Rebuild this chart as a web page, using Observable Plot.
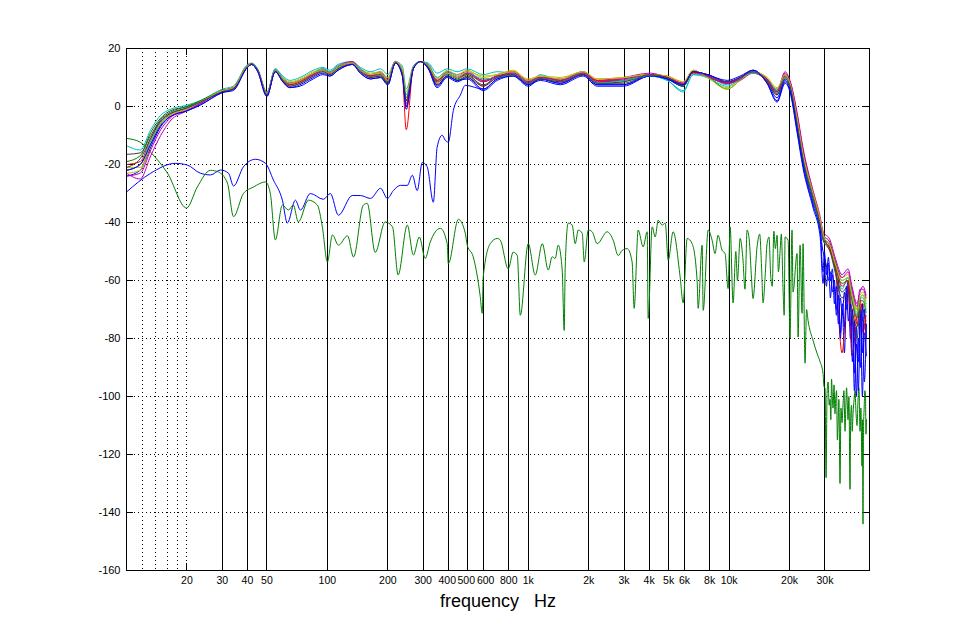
<!DOCTYPE html>
<html><head><meta charset="utf-8">
<script src="https://cdn.jsdelivr.net/npm/d3@7"></script>
<script src="https://cdn.jsdelivr.net/npm/@observablehq/plot@0.6"></script>
<style>html,body{margin:0;padding:0;background:#fff}</style>
</head><body><div id="chart"></div>
<script>
// ---- axis / grid definitions ----
const xTicks = [20,30,40,50,100,200,300,400,500,600,800,1000,2000,3000,4000,5000,6000,8000,10000,20000,30000];
const xTickLabels = ["20","30","40","50","100","200","300","400","500","600","800","1k","2k","3k","4k","5k","6k","8k","10k","20k","30k"];
const yTicks = [20,0,-20,-40,-60,-80,-100,-120,-140,-160];
const dottedX = [12,14,16,18,20];
const solidX = [30,40,50,100,200,300,400,500,600,800,1000,2000,3000,4000,5000,6000,8000,10000,20000,30000];
const yGrid = [0,-20,-40,-60,-80,-100,-120,-140];
const xLabel = "frequency\u00a0\u00a0\u00a0Hz";

// ---- bundle of measured responses (shared frequency grid) ----
const bundleFreq = [10,11.7,13.2,14.8,16.5,20,23.3,30,34,40,42,45,50,55,60,65,73,85,95,103,113,133,146,164,184,200,218,236,247,268,290,318,352,395,443,497,597,701,842,1000,1148,1443,1878,2205,2970,4046,4917,5906,6622,7778,9780,11350,13160,15450,17330,19000,20100,21800,23300,26200,28400,29350,31800,33700,36500,39100,40900,43350,44850,46400,48050];

const respRed1 = [-22,-20,-13,-6,-3,-1,1,5.5,6,14, 14.5,12.5,4.5,12.5,9.5,8,9,11.5,12.5,11.5, 13.5,15,12.5,10.5,11,8.5,15.5,11,-8,13.5, 15.5,14,8,11.5,10,11,7,11,12,9, 10.5,9,11,9,9.5,11,10.5,8,12.5,10, 8.5,9.5,12,9.5,5.5,11,8.5,-3,-15,-30, -39,-44,-50,-55,-85,-62,-67,-75,-70,-68,-80];
const respCyan1 = [-13.5,-15,-8,-3,-1,0.5,2,6,7,14.5, 15,13,5,13,10.5,9,10,12.5,13.5,12.5, 14.5,15.5,13.5,12,13,11,15.5,14,6,14, 15.5,15,11.5,13,12,13,11,12,11,8, 11,9,12,8,8.5,10.5,9,5,11,10.5, 7.5,10,11.5,9.5,6,10.5,7,-6,-18,-32, -42,-46,-49,-53,-63,-59,-64,-70,-66,-65,-68];
const respMagenta1 = [-23,-25,-17,-10,-5,-1.5,1,5.5,6.5,14, 14.5,12.5,4.5,12.5,9.5,8,9,11.5,13,12, 14,15.5,13,11,12,9.5,15.5,12.5,2,13.5, 15.5,14.5,9,12,11,12,9,10,12,9, 10,9.5,12,9,10,11.5,10,8,12,10.5, 8,9,11.5,9,5.5,12,9,-2,-14,-29, -38,-43,-46,-52,-58,-56,-62,-68,-64,-62,-65];
const respOlive1 = [-21,-21,-12,-6,-2.5,-0.5,1.5,5.5,6.5,14, 14.5,12.5,4.5,12.5,10,8.5,9.5,12,13,12, 14,15,13,11.5,12,10,15.5,13,4,13.5, 15.5,14.5,10,12.5,11,12.5,10,11,12.5,9, 10.5,10,12,9.5,10,11,10.5,8.5,12.5,10, 6.5,9.5,12,10,6,11,8,-4,-16,-30, -39,-44,-47,-53,-59,-58,-64,-70,-65,-64,-67];
const respGray1 = [-16.5,-16,-10,-4.5,-2,0,1.5,5,6,13.5, 14.5,12.5,4,12,9,7,8,10.5,12,11, 13,14.5,12,10,10.5,8,15,11.5,1,13, 15.5,13.5,7.5,10.5,9,10.5,7.5,10,11,8, 9.5,8.5,11,8,8.5,11,10,7.5,12,10.5, 8,9.5,12,9,4.5,9.5,7,-5,-17,-31, -40,-45,-49,-56,-64,-62,-70,-76,-68,-70,-74];
const respBlue1 = [-24,-22,-14,-7,-3.5,-1.5,0.5,4.8,6,13.5, 14.5,12,3.5,12,8.5,6.5,7.5,10,11.5,10.5, 12.5,14.5,11.5,9.5,10,7.5,15,11,-1,13, 15.5,13,6.5,10,8.5,10,6,9.5,11,7.5, 9.5,8,11,7.5,7.5,11,9.5,7,12,11, 8.5,10,12.5,8.5,3,9,6,-7,-19,-33, -42,-57,-52,-60,-75,-70,-88,-95,-78,-92,-85];
const respGreen1 = [-19,-17,-9,-4,-1.5,0,2,5.5,6.5,14, 14.5,12.5,4.5,12.5,9.5,7.5,8.5,11,12.5,11.5, 13.5,15,12.5,10.5,11,8.5,15.5,12,3,13.5, 15.5,14,8.5,11,9.5,11,8.5,10.5,11.5,8.5, 10,9,11.5,8.5,9,11,10,7,12,10.5, 6,9,12,9,4,10,7.5,-5,-17,-31, -40,-45,-48,-55,-61,-60,-66,-73,-67,-67,-71];
const respRed2 = [-20,-19,-11,-5,-2.5,-0.5,1.5,5.5,6.5,14, 14.8,12.5,4.5,12.5,9,7.5,8.5,11,12.5,11.5, 13.5,15,12.5,10.5,11.5,9,15.5,12,0,13.5, 15.5,14,9,11.5,10,11.5,9,10.5,11,8, 10,9,11.5,9,9,11,10,7.5,11.5,10.5, 8,9.5,12,9,5,10.5,8,-4,-16,-30, -40,-45,-49,-54,-62,-60,-86,-72,-66,-78,-72];
const respCyan2 = [-22,-20,-12,-5.5,-2.5,-0.5,1.5,5.5,6.5,14, 14.5,12.5,4.5,13,10,8,9,11.5,13,12, 14,15,13,11,11.5,9,15.5,12.5,4,13.5, 15.5,14.5,10,12,10.5,11.5,9.5,10,11,8, 10,8.5,11.5,8,9,10.5,9,5.5,11,10, 7,9.5,11.5,9.5,5.5,10,7,-5,-17,-32, -41,-45,-48,-53,-60,-59,-65,-72,-66,-66,-70];
const respMagenta2 = [-24,-23,-15,-8,-4,-1,1,5.5,6.5,14, 14.5,12.5,4.5,12.5,9.5,8,9,11,12.5,11.5, 13.5,15,12.5,10.5,11.5,9,15.5,12,2,13.5, 15.5,14,9,11.5,10,11.5,8.5,10.5,11.5,8.5, 10,9,11.5,8.5,9.5,11,10,8,12,10.5, 8,9.5,12,9.5,5,11.5,8.5,-3,-15,-30, -39,-44,-47,-53,-59,-57,-63,-69,-63,-63,-66];
const respOlive2 = [-23,-22,-13,-6,-3,-1,1.5,5.5,6.5,14, 14.5,12.5,4.5,12.5,9.5,8,9,11.5,12.5,11.5, 13.5,15,12.5,11,11.5,9,15.5,12.5,5,13.5, 15.5,14,9.5,11.5,10,12,10.5,11,12,9.5, 10.5,9.5,12,9.5,10,11,10.5,8.5,12.5,10, 6,9,12,10,6.5,11,8,-4,-16,-30, -39,-44,-48,-54,-60,-59,-65,-71,-66,-65,-69];
const respGray2 = [-21,-18,-11,-5,-2.5,-0.5,1.5,5,6,13.5, 14.5,12.5,4,12,9,7,8,10.5,12,11, 13,14.5,12,10,10.5,8,15,11.5,2,13, 15.5,13.5,7.5,10.5,9,10,7,10,11,8, 9.5,8.5,11,8,8,11,10,7.5,12,11, 8.5,10,12,8.5,4,9.5,7,-6,-18,-32, -41,-46,-50,-57,-66,-64,-72,-80,-70,-74,-76];
const respBlue2 = [-22,-20,-13,-6.5,-3.5,-1.5,0.5,4.8,5.5,13.5, 14.5,12,3.5,12,8.5,6.5,7,9.5,11,10.5, 12.5,14.5,11.5,9.5,10,7.5,15,10.5,0,13, 15.5,13,7,10.5,9,9.5,5.5,9,10.5,7.5, 9,7.5,10.5,7,7,10.5,9.5,7.5,12,11, 9,10.5,12.5,8,2,8.5,5.5,-8,-20,-34, -43,-50,-55,-65,-85,-72,-80,-100,-82,-88,-95];

// ---- dense high-frequency tails of the blue responses ----
const tailFreq = [29810,30510,31220,31940,32680,33440,34210,35000,35810,36640,37490,38360,39250,40160,41090,42040,43010,44010,45030,46070,47140,48230];
const tailBlue1 = [-50,-58,-52,-60,-56,-68,-62,-75,-66,-72,-64,-70,-62,-80,-70,-92,-76,-98,-72,-85,-70,-80];
const tailBlue2 = [-52,-55,-60,-57,-64,-60,-72,-65,-80,-68,-76,-62,-74,-68,-88,-74,-100,-80,-90,-68,-95,-75];
const tailLowBlue = [-56,-62,-54,-66,-58,-63,-70,-60,-78,-70,-85,-66,-60,-76,-72,-98,-82,-88,-70,-100,-78,-86];

// ---- low blue response (separate frequency grid) ----
const lowBlueFreq = [10,13.2,17.5,20.1,23.3,26.2,29.4,32.2,34.1,38.2,43.8,49.2,53.9,59.7,63.2,69.3,73.4,82.3,95.5,103.5,113.5,133,146,164,184,199,213,231,250,265,280,297,314,337,352,373,386,400,424,459,486,597,701,842,1000,1148,1443,1878,2205,2970,4046,4917,5906,6622,7778,9780,11350,13160,15450,17330,19000,20100,21800,23300,26200,28400,29350,31800,33700,36500,39100,40900,43350,44850,46400,48050];
const lowBlueVal = [-29.5,-23,-19.6,-20.2,-23,-23.6,-21.9,-23,-27.4,-20.8,-18.2,-19.6,-25.4,-32.3,-40.2,-32.3,-35.7,-30,-32,-30,-37.5,-30.7,-30.7,-31.7,-28.2,-31.7,-29,-27.2,-27.2,-23.7,-29,-19.3,-20.8,-33,-14,-9.9,-11.6,-12.3,-1.3,3.9,7.3,6,9.5,10.5,7,9.5,8,11,7.5,7.5,10.5,9.5,7,12,11,8.5,10,12.5,8,1.5,8,5,-9,-21,-35,-45,-61,-58,-68,-78,-75,-90,-98,-85,-96,-88];

// ---- noise floor (green) ----
const noiseFreq = [10,11.7,13.2,16,19.9,22.5,26.2,28.7,31.8,34.1,38.2,42.8,49.2,52,55.1,59.7,64,67.7,71.7,80.5,89.2,94.4,100,106,113.5,126,135,151,158,173,194,211,225,250,268,287,307,325,365,395,400,449,486,497,532,577,590,597,647,701,726,795,842,882,913,1000,1084,1175,1258,1316,1362,1410,1476,1510,1528,1581,1655,1714,1774,1857,1900,1990,2081,2205,2472,2649,2805,2937,3110,3290,3367,3526,3735,3910,3955,4140,4287,4435,4645,4808,4977,5265,5703,5906,6183,6546,6930,7012,7343,7430,7870,8230,8511,8810,9228,9550,9886,10115,10470,10800,11000,11350,11700,12000,12290,12600,12900,13160,13780,14200,14500,14760,15100,15450,15800,16100,16400,16700,17000,17330,17600,17950,18200,18570,18800,19000,19670,20100,20570,20810,21800,22050,22560,23080,23340,23880,24300,24720,26180,27410,28380,29350,29700,30040,30390,30740,31100,31500,31800,32100,32360,32650,32910,33300,33660,34000,34280,34600,34860,35200,35660,36060,36500,36900,37300,37770,38100,38430,38800,39080,39500,39990,40300,40700,41000,41400,41900,42360,42800,43350,43850,44300,44870,45300,45880,46100,46410,46700,46980,47400,47770,48000,48310];
const noiseVal = [-11,-12.3,-15.8,-23,-35,-27.8,-22,-22.6,-26.4,-38,-30,-27.8,-26,-30,-46,-34,-35.7,-34,-39.8,-32.3,-34,-41.5,-53.6,-44.3,-47.8,-44.6,-51.9,-34,-33.4,-50.3,-39.8,-41.5,-58.1,-40.9,-51.2,-45,-52.4,-46.8,-42,-47.3,-54.2,-38.9,-43.7,-47.8,-51.8,-65.6,-71.3,-58.7,-47.3,-45.5,-46.1,-56,-50.2,-51.4,-72,-47.3,-58.1,-47.3,-56.4,-51.8,-52.4,-47.8,-56.4,-77.2,-55.3,-40.2,-40.9,-47.3,-42.6,-43.7,-53.6,-42.6,-43.2,-47.3,-43.2,-46.1,-51.4,-49.6,-49,-53.6,-69.6,-42.6,-48.4,-43.2,-73.1,-41.5,-45,-39.2,-40.9,-40.2,-53,-43.2,-58.7,-67.7,-45.5,-47.3,-60,-69.6,-47.8,-70.3,-42.6,-46.1,-50.7,-44.4,-49.6,-50.7,-62.8,-41.5,-67.7,-50,-60,-45.5,-52,-63,-42.6,-46,-58,-66.2,-48.4,-44,-55,-67.7,-59,-47.3,-45,-58,-62,-43,-49,-44.4,-57,-49.6,-44,-63.4,-72,-45,-46.1,-79.9,-42.6,-64,-50.7,-79.5,-47.8,-71.3,-47.3,-88.5,-70,-73.8,-80.7,-85.1,-88,-92,-96.7,-97,-128,-99,-95,-103,-101,-108,-94,-100,-104,-96,-106,-100,-98,-115,-110,-101,-130,-104,-109,-103,-98,-112,-104,-97,-103,-108,-100,-132,-107,-103,-112,-106,-101,-98,-105,-110,-101,-97,-112,-104,-124,-108,-144,-110,-105,-98,-100,-113,-108];

// ---- colours (MATLAB default order) ----
const C = {blue:"#0000ff", green:"#008000", red:"#ff0000", cyan:"#00bfbf", magenta:"#bf00bf", olive:"#bfbf00", gray:"#404040"};

const toRows = (fs, vs) => fs.map((f, i) => ({f, v: vs[i]}));
const withTail = (rows, tail) => rows.filter(r => r.f < tailFreq[0]).concat(toRows(tailFreq, tail));

const bundle = [
  [toRows(bundleFreq, respRed1), C.red], [toRows(bundleFreq, respCyan1), C.cyan],
  [toRows(bundleFreq, respMagenta1), C.magenta], [toRows(bundleFreq, respOlive1), C.olive],
  [toRows(bundleFreq, respGray1), C.gray], [withTail(toRows(bundleFreq, respBlue1), tailBlue1), C.blue],
  [toRows(bundleFreq, respGreen1), C.green], [toRows(bundleFreq, respRed2), C.red],
  [toRows(bundleFreq, respCyan2), C.cyan], [toRows(bundleFreq, respMagenta2), C.magenta],
  [toRows(bundleFreq, respOlive2), C.olive], [toRows(bundleFreq, respGray2), C.gray],
  [withTail(toRows(bundleFreq, respBlue2), tailBlue2), C.blue]
];

// inward tick length (7 px) expressed in data units
const decadePx = (869 - 126) / Math.log10(50000 / 10);
const kx = Math.pow(10, 7 / decadePx);
const tickDy = 7 * 180 / 522;
const crisp = {stroke: "black", shapeRendering: "crispEdges"};

// tick labels: the crowded 400/500/600 group is nudged apart slightly
const crowded = new Set([400, 500, 600]);
const tickLabel = (d) => xTickLabels[xTicks.indexOf(d)];
const labelOpts = {y: d => -160, text: tickLabel, dy: 10, fontSize: 10.5, lineAnchor: "middle", fill: "black"};

const marks = [
  Plot.ruleX(dottedX, {...crisp, strokeDasharray: "1,3"}),
  Plot.ruleY(yGrid, {...crisp, strokeDasharray: "1,3"}),
  Plot.ruleX(solidX, crisp),
  Plot.ruleY(yTicks, {...crisp, x1: 10, x2: 10 * kx}),
  Plot.ruleY(yTicks, {...crisp, x1: 50000 / kx, x2: 50000}),
  Plot.ruleX([20], {...crisp, y1: -160, y2: -160 + tickDy}),
  Plot.ruleX([20], {...crisp, y1: 20 - tickDy, y2: 20}),
  Plot.line(withTail(toRows(lowBlueFreq, lowBlueVal), tailLowBlue), {x: "f", y: "v", stroke: C.blue, strokeWidth: 1, curve: "monotone-x"}),
  Plot.line(toRows(noiseFreq, noiseVal), {x: "f", y: "v", stroke: C.green, strokeWidth: 1, curve: "monotone-x"}),
  ...bundle.map(([rows, col]) => Plot.line(rows, {x: "f", y: "v", stroke: col, strokeWidth: 1, curve: "monotone-x"})),
  Plot.frame(crisp),
  Plot.text(xTicks.filter(d => !crowded.has(d)), {x: d => d, ...labelOpts}),
  Plot.text([400], {x: d => d, ...labelOpts, dx: -1}),
  Plot.text([500], {x: d => d, ...labelOpts, dx: -1.5}),
  Plot.text([600], {x: d => d, ...labelOpts, dx: 2}),
  Plot.text(yTicks, {x: d => 10, y: d => d, text: d => String(d), textAnchor: "end", dx: -6, fontSize: 11, fill: "black"}),
  Plot.text([xLabel], {frameAnchor: "bottom", dy: 31, text: d => d, fontSize: 18, lineAnchor: "middle", fill: "black"})
];

const chart = Plot.plot({
  width: 960,
  height: 640,
  marginLeft: 126,
  marginRight: 91,
  marginTop: 48,
  marginBottom: 70,
  style: {fontFamily: "'Liberation Sans', Arial, sans-serif", fontSize: "11px", background: "white", color: "black"},
  x: {type: "log", domain: [10, 50000], axis: null},
  y: {domain: [-160, 20], axis: null},
  marks
});
document.getElementById("chart").appendChild(chart);
</script>
</body></html>
